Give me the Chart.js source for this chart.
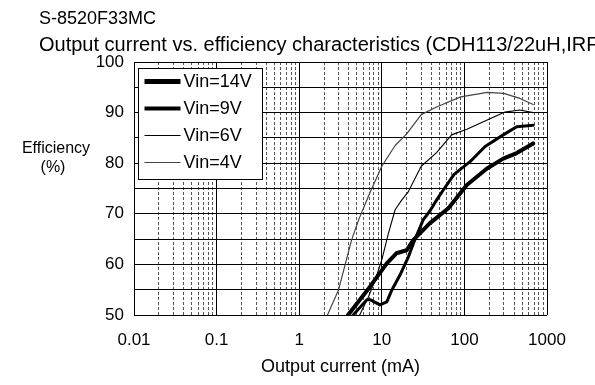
<!DOCTYPE html>
<html>
<head>
<meta charset="utf-8">
<script src="https://cdn.jsdelivr.net/npm/chart.js@4.4.0/dist/chart.umd.min.js"></script>
<style>
  html, body { margin: 0; padding: 0; background: #fff; }
</style>
</head>
<body>
<canvas id="eff" width="595" height="385"></canvas>
<script>
var chartTitle = 'S-8520F33MC';
var chartSubtitle = 'Output current vs. efficiency characteristics';
var chartSubtitleNote = '(CDH113/22uH,IRF';
var xTitle = 'Output current (mA)';
var yTitle = ['Efficiency', '(%)'];

var seriesNames = ['Vin=14V', 'Vin=9V', 'Vin=6V', 'Vin=4V'];

// output current (mA) and efficiency (%) for each input voltage
var iout14 = [3.9, 7.2, 11.5, 15, 20, 24, 38, 64, 107, 186, 295, 430, 680];
var eff14  = [50, 55.6, 60.2, 62.2, 62.8, 64.8, 68.1, 71.1, 75.7, 78.9, 80.9, 82.0, 83.9];

var iout9 = [4.5, 6.6, 7.3, 9.5, 11.5, 13.2, 16.6, 21, 25, 31.7, 38, 46, 55, 75, 117, 178, 295, 430, 680];
var eff9  = [50, 53.0, 53.0, 52.0, 52.6, 54.9, 57.9, 61.5, 64.8, 68.8, 70.5, 72.7, 74.6, 77.8, 80.3, 83.3, 85.6, 87.2, 87.5];

var iout6 = [5.4, 6.9, 8.3, 10, 12, 14.5, 17.4, 21, 30, 46, 70, 107, 186, 310, 468, 680];
var eff6  = [50, 53.6, 56.9, 60.9, 66.1, 70.8, 72.7, 74.4, 79.4, 82.1, 85.6, 86.7, 88.5, 90.1, 90.5, 90.0];

var iout4 = [2.2, 3.0, 4.3, 5.3, 7.2, 10, 14.5, 20, 30, 46, 90, 190, 300, 470, 680];
var eff4  = [50, 55.0, 64.8, 69.0, 74.2, 79.4, 83.5, 85.8, 89.6, 91.1, 93.1, 94.0, 93.8, 92.8, 91.6];

var xTickValues = [0.01, 0.1, 1, 10, 100, 1000];
var xTickLabels = ['0.01', '0.1', '1', '10', '100', '1000'];
var yTickValues = [50, 60, 70, 80, 90, 100];
var yTickLabels = ['50', '60', '70', '80', '90', '100'];

var FONT = "'Liberation Sans', Arial, sans-serif";
Chart.defaults.font.family = FONT;
Chart.defaults.color = '#000';

function points(xs, ys) {
	var out = [];
	for (var i = 0; i < xs.length; i++) out.push({ x: xs[i], y: ys[i] });
	return out;
}

function xLabelFor(v) {
	for (var i = 0; i < xTickValues.length; i++) {
		if (Math.abs(v / xTickValues[i] - 1) < 1e-6) return xTickLabels[i];
	}
	return '';
}

function isDecade(v) {
	return xLabelFor(v) !== '';
}

// 1..9 per decade, like the log paper in the datasheet
function minorTicks(scale) {
	var t = [];
	for (var i = 0; i < xTickValues.length - 1; i++) {
		for (var m = 1; m < 10; m++) t.push({ value: Number((m * xTickValues[i]).toPrecision(3)) });
	}
	t.push({ value: xTickValues[xTickValues.length - 1] });
	scale.ticks = t;
}

var textPlugin = {
	id: 'sheetText',
	afterDraw: function(chart) {
		var ctx = chart.ctx;
		var area = chart.chartArea;
		ctx.save();
		ctx.fillStyle = '#000';
		ctx.textBaseline = 'alphabetic';
		ctx.textAlign = 'left';

		ctx.font = '18px ' + FONT;
		ctx.fillText(chartTitle, 39, 24);

		ctx.font = '20px ' + FONT;
		ctx.fillText(chartSubtitle, 39, 51);
		var w = ctx.measureText(chartSubtitle + ' ').width;
		ctx.fillText(chartSubtitleNote, 39 + w, 51);

		ctx.textAlign = 'center';
		ctx.font = '16px ' + FONT;
		ctx.fillText(yTitle[0], 56, 153);
		ctx.fillText(yTitle[1], 53, 172);

		// legend box inside the plot
		var bx = area.left + 4.5, by = area.top + 6.5, bw = 124, bh = 111;
		ctx.fillStyle = '#fff';
		ctx.fillRect(bx, by, bw, bh);
		ctx.strokeStyle = '#000';
		ctx.lineWidth = 1;
		ctx.strokeRect(bx, by, bw, bh);

		ctx.font = '18px ' + FONT;
		ctx.textAlign = 'left';
		ctx.textBaseline = 'middle';
		chart.data.datasets.forEach(function(ds, i) {
			var y = by + 13 + i * 27;
			ctx.beginPath();
			ctx.strokeStyle = ds.borderColor;
			ctx.lineWidth = ds.borderWidth + (i < 2 ? 1 : 0);
			ctx.moveTo(bx + 6, y);
			ctx.lineTo(bx + 42, y);
			ctx.stroke();
			ctx.fillStyle = '#000';
			ctx.fillText(ds.label, bx + 45, y + 1);
		});
		ctx.restore();
	}
};

var ctx = document.getElementById('eff').getContext('2d');
window.effChart = new Chart(ctx, {
	type: 'line',
	data: {
		datasets: [
			{ label: seriesNames[0], data: points(iout14, eff14), borderColor: '#000', borderWidth: 4 },
			{ label: seriesNames[1], data: points(iout9, eff9), borderColor: '#000', borderWidth: 3 },
			{ label: seriesNames[2], data: points(iout6, eff6), borderColor: '#000', borderWidth: 1.1 },
			{ label: seriesNames[3], data: points(iout4, eff4), borderColor: '#444', borderWidth: 1.2 }
		]
	},
	options: {
		responsive: false,
		animation: false,
		devicePixelRatio: 1,
		layout: { padding: { left: 0, right: 48, top: 62, bottom: 0 } },
		elements: {
			line: { tension: 0, fill: false, borderJoinStyle: 'round', borderCapStyle: 'round' },
			point: { radius: 0, hoverRadius: 0 }
		},
		plugins: { legend: { display: false }, tooltip: { enabled: false }, title: { display: false } },
		scales: {
			x: {
				type: 'logarithmic', position: 'bottom', min: 0.01, max: 1000,
				afterBuildTicks: minorTicks,
				afterFit: function(s) { s.height = 70; },
				ticks: {
					autoSkip: false, maxRotation: 0, padding: 15, font: { size: 17 },
					callback: function(v) { return xLabelFor(v); }
				},
				grid: {
					drawTicks: false, lineWidth: 1,
					color: function(c) { return c.tick && isDecade(c.tick.value) ? 'rgba(0,0,0,0)' : '#555'; }
				},
				border: { display: false, dash: [3, 2] },
				title: { display: true, text: xTitle, font: { size: 18 }, padding: { top: 0, bottom: 7 } }
			},
			xMajor: {
				type: 'logarithmic', position: 'top', min: 0.01, max: 1000,
				afterBuildTicks: function(s) { s.ticks = xTickValues.map(function(v) { return { value: v }; }); },
				afterFit: function(s) { s.height = 0; },
				ticks: { display: false },
				grid: { drawTicks: false, color: '#000', lineWidth: 1 },
				border: { display: false }
			},
			y: {
				type: 'linear', min: 50, max: 100,
				afterFit: function(s) { s.width = 134; },
				ticks: {
					stepSize: 5, padding: 10, font: { size: 17 },
					callback: function(v) {
						var i = yTickValues.indexOf(v);
						return i >= 0 ? yTickLabels[i] : '';
					}
				},
				grid: { drawTicks: false, color: '#000', lineWidth: 1 },
				border: { display: false }
			}
		}
	},
	plugins: [textPlugin]
});
</script>
</body>
</html>
